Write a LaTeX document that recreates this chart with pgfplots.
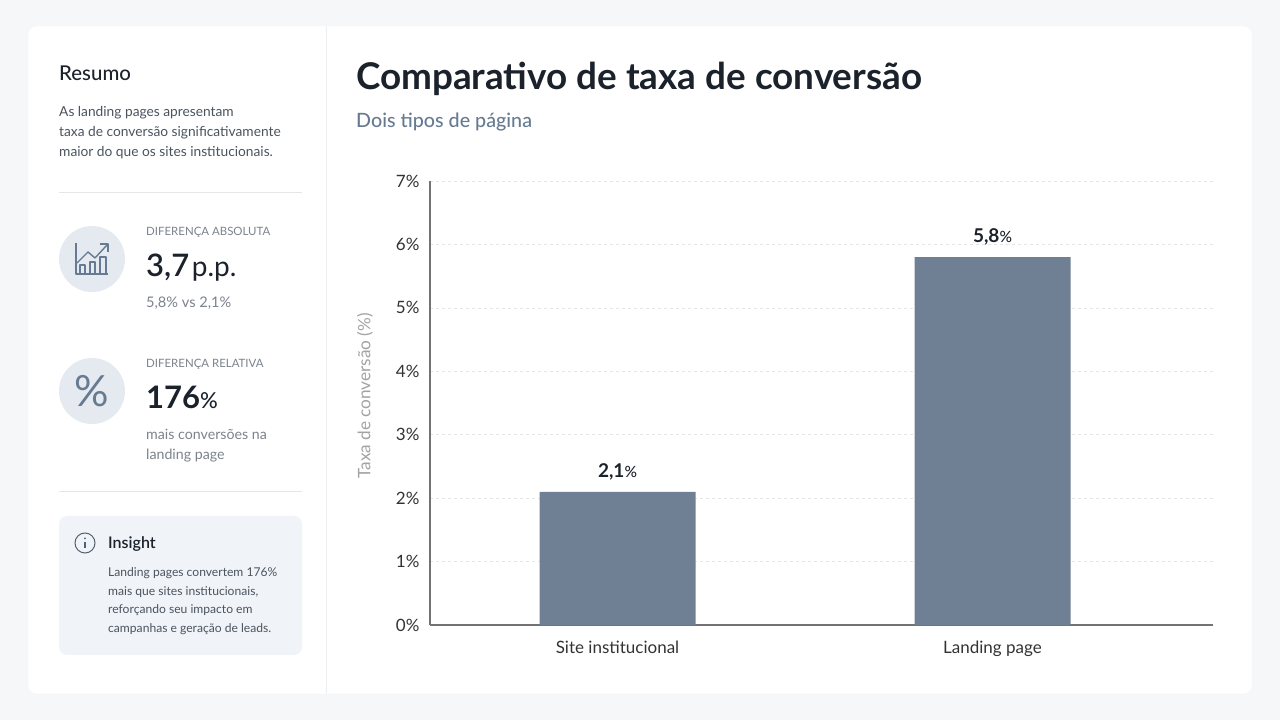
\documentclass[border=0pt]{standalone}
\usepackage{fontspec}
\usepackage{pgfplots}
\pgfplotsset{compat=1.18}
\setmainfont{Lato}
\newfontfamily\semi{Lato Semibold}
\newfontfamily\medi{Lato Medium}
\newfontfamily\lbold{Lato Bold}
\newcommand\fs[1]{\fontsize{#1}{#1}\selectfont}
\definecolor{pagebg}{HTML}{F5F7F9}
\definecolor{barcol}{HTML}{708094}
\definecolor{inkdark}{HTML}{1B222B}
\definecolor{inkbody}{HTML}{4A545F}
\definecolor{inkmute}{HTML}{7C838B}
\definecolor{rulecol}{HTML}{E4E7EA}
\definecolor{iconbg}{HTML}{E5EAF1}
\definecolor{iconink}{HTML}{667A91}
\definecolor{boxbg}{HTML}{F0F3F7}
% x, baseline y measured from the top, options, text
\newcommand\txt[4]{\node[anchor=base west,inner sep=0pt,#3] at (#1,720-#2) {#4};}
\begin{document}
\begin{tikzpicture}[x=1pt,y=1pt]
% page and card
\fill[pagebg] (0,0) rectangle (1280,720);
\fill[white,draw=black!4,rounded corners=8pt] (28,720-26) rectangle (1252,720-694);
\draw[rulecol!70] (326.5,720-26) -- (326.5,720-694);

% left panel
\txt{59}{81}{text=inkdark}{\medi\fs{20.4}Resumo}
\txt{59}{116.5}{text=inkbody}{\fs{13.75}As landing pages apresentam}
\txt{59}{137}{text=inkbody}{\fs{13.75}taxa de conversão significativamente}
\txt{59}{157}{text=inkbody}{\fs{13.75}maior do que os sites institucionais.}
\draw[rulecol] (59,720-192) -- (302,720-192);

\fill[iconbg] (92,720-259) circle (33);
\begin{scope}[iconink,line width=1.4pt,line join=round]
\draw (76,720-243) -- (76,720-274) -- (108,720-274);
\draw (80,720-274) -- (80,720-265) -- (85,720-265) -- (85,720-274);
\draw (90,720-274) -- (90,720-262) -- (95,720-262) -- (95,720-274);
\draw (100,720-274) -- (100,720-257) -- (106,720-257) -- (106,720-274);
\draw (77,720-263) -- (88,720-252) -- (95,720-258) -- (107,720-245);
\draw (100,720-244) -- (108,720-244) -- (108,720-252);
\end{scope}
\txt{146}{236}{text=inkmute}{\fs{11.45}DIFERENÇA ABSOLUTA}
\txt{146}{277}{text=inkdark}{{\semi\fs{31}3,7} \fs{28}p.p.}
\txt{146}{308}{text=inkmute}{\fs{14.6}5,8\% vs 2,1\%}

\fill[iconbg] (92,720-391) circle (33);
\node[text=iconink,inner sep=0pt] at (92,720-391) {\fs{43}\%};
\txt{146}{368}{text=inkmute}{\fs{11.45}DIFERENÇA RELATIVA}
\txt{146}{409}{text=inkdark}{{\lbold\fs{31}176}{\medi\fs{22}\%}}
\txt{146}{440}{text=inkmute}{\fs{14.2}mais conversões na}
\txt{146}{459.5}{text=inkmute}{\fs{14.2}landing page}
\draw[rulecol] (59,720-491) -- (302,720-491);

\fill[boxbg,rounded corners=8pt] (59,720-516) rectangle (302,720-655);
\draw[iconink!80!black,line width=1pt] (85,720-543) circle (10);
\fill[iconink!80!black] (85,720-538.5) circle (1);
\draw[iconink!80!black,line width=1.2pt] (85,720-542) -- (85,720-548.5);
\txt{108}{549}{text=inkdark}{\semi\fs{16}Insight}
\txt{108}{576.5}{text=inkbody}{\fs{12.1}Landing pages convertem 176\%}
\txt{108}{595.5}{text=inkbody}{\fs{12.1}mais que sites institucionais,}
\txt{108}{613.5}{text=inkbody}{\fs{12.1}reforçando seu impacto em}
\txt{108}{632.5}{text=inkbody}{\fs{12.1}campanhas e geração de leads.}

% heading
\txt{356}{90}{text=inkdark}{\lbold\fs{36.85}Comparativo de taxa de conversão}
\txt{356}{128}{text=iconink}{\medi\fs{19.7}Dois tipos de página}

\begin{axis}[
    at={(430pt,95pt)}, anchor=south west,
    scale only axis, width=783pt, height=444pt,
    xmin=-0.5, xmax=1.588, ymin=0, ymax=7,
    axis lines=left,
    axis line style={-,draw=black!55,line width=1.1pt},
    xtick={0,1}, xticklabels={Site institucional,Landing page},
    ytick={0,1,2,3,4,5,6,7},
    yticklabels={0\%,1\%,2\%,3\%,4\%,5\%,6\%,7\%},
    major tick length=0pt,
    tick label style={font=\fs{17},text=black!80},
    xticklabel style={yshift=-12pt},
    yticklabel style={xshift=-7pt},
    ymajorgrids,
    grid style={dashed,draw=black!10,line width=0.6pt},
    ylabel={Taxa de conversão (\%)},
    every axis y label/.style={at={(axis description cs:-0.083,0.516)},rotate=90,anchor=center,font=\fs{17.2},text=black!36},
    ybar, bar width=156pt,
    nodes near coords={\pgfmathprintnumber[assume math mode=true,use comma,fixed,fixed zerofill,precision=1]{\pgfplotspointmeta}{\medi\fs{15.5}\%}},
    nodes near coords style={font=\lbold\fs{19},text=inkdark,yshift=8pt},
]
\addplot[fill=barcol,draw=none] coordinates {(0,2.1) (1,5.8)};
\end{axis}
\end{tikzpicture}
\end{document}
